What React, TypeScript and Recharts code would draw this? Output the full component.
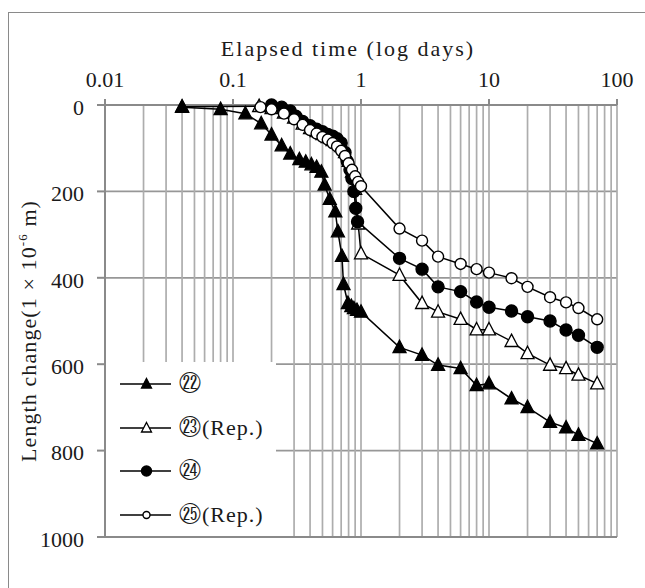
import React from "react";
import {
  ScatterChart,
  Scatter,
  XAxis,
  YAxis,
  CartesianGrid,
  ReferenceLine,
  Legend,
} from "recharts";

// elapsed time (days) and length change (x1e-6 m)
const s22Days = [0.04, 0.08, 0.125, 0.166, 0.2, 0.24, 0.28, 0.33, 0.37, 0.41, 0.45, 0.49, 0.52, 0.57, 0.63, 0.66, 0.71, 0.73, 0.79, 0.84, 0.88, 0.93, 1.0, 2, 3, 4, 6, 8, 10, 15, 20, 30, 40, 50, 70];
const s22Len = [5, 10, 20, 43, 69, 94, 113, 126, 132, 138, 144, 155, 185, 218, 247, 293, 350, 415, 459, 466, 471, 475, 479, 561, 579, 602, 610, 649, 645, 680, 700, 734, 747, 764, 784];

const s23Days = [0.04, 0.16, 0.2, 0.25, 0.3, 0.35, 0.4, 0.45, 0.5, 0.55, 0.6, 0.65, 0.7, 0.75, 0.8, 0.85, 0.9, 0.95, 1.0, 2, 3, 4, 6, 8, 10, 15, 20, 30, 40, 50, 70];
const s23Len = [4, 3, 8, 18, 30, 44, 54, 61, 68, 75, 82, 88, 96, 110, 130, 155, 195, 275, 344, 394, 459, 479, 496, 520, 520, 547, 575, 602, 610, 625, 645];

const s24Days = [0.2, 0.24, 0.28, 0.31, 0.35, 0.4, 0.45, 0.5, 0.55, 0.6, 0.65, 0.7, 0.75, 0.78, 0.82, 0.85, 0.88, 0.91, 0.94, 2, 3, 4, 6, 8, 10, 15, 20, 30, 40, 50, 70];
const s24Len = [0, 5, 14, 26, 38, 48, 56, 62, 68, 72, 78, 88, 110, 130, 150, 170, 200, 239, 270, 355, 380, 421, 432, 456, 468, 477, 490, 500, 521, 533, 561];

const s25Days = [0.164, 0.2, 0.25, 0.3, 0.35, 0.4, 0.45, 0.5, 0.55, 0.6, 0.65, 0.7, 0.75, 0.8, 0.85, 0.9, 0.95, 1.0, 2, 3, 4, 6, 8, 10, 15, 20, 30, 40, 50, 70];
const s25Len = [5, 10, 20, 33, 46, 58, 66, 74, 80, 88, 96, 106, 118, 135, 150, 165, 178, 188, 286, 314, 351, 368, 380, 388, 401, 421, 445, 457, 470, 496];

const xTicks = [0.01, 0.1, 1, 10, 100];
const yTicks = [0, 200, 400, 600, 800, 1000];
const decades = [0.01, 0.1, 1, 10];
const steps = [1, 2, 3, 4, 5, 6, 7, 8, 9];
const minorX = decades.flatMap((d) => steps.map((s) => +(d * s).toPrecision(3))).concat([100]);

const FONT = "Liberation Serif, Times New Roman, serif";

const toPoints = (days: number[], len: number[]) =>
  days.map((d, i) => ({ t: d, v: len[i] }));

const series = [
  { name: "㉒", data: toPoints(s22Days, s22Len), kind: "tri", filled: true },
  { name: "㉓(Rep.)", data: toPoints(s23Days, s23Len), kind: "tri", filled: false },
  { name: "㉔", data: toPoints(s24Days, s24Len), kind: "circ", filled: true },
  { name: "㉕(Rep.)", data: toPoints(s25Days, s25Len), kind: "circ", filled: false },
];
// ㉒ goes on top so its first marker hides the start of ㉓
const drawOrder = [1, 2, 3, 0];

function Marker({ cx, cy, kind, filled, s }: any) {
  if (cx == null || cy == null) return null;
  const fill = filled ? "#000" : "#fff";
  if (kind === "tri") {
    const d = `M${cx},${cy - s * 0.55}L${cx + s * 0.5},${cy + s * 0.4}L${cx - s * 0.5},${cy + s * 0.4}Z`;
    return <path d={d} fill={fill} stroke="#000" strokeWidth={1.3} />;
  }
  return <circle cx={cx} cy={cy} r={filled ? s / 2 : s / 2 - 0.5} fill={fill} stroke="#000" strokeWidth={1.4} />;
}

function LegendBox() {
  return (
    <div style={{ position: "relative", width: 170, height: 174, background: "#fff", fontFamily: FONT }}>
      {series.map((s, i) => (
        <div
          key={s.name}
          style={{ position: "absolute", left: 0, top: 22 + i * 43.5 - 12, height: 24, display: "flex", alignItems: "center" }}
        >
          <svg width={72} height={24} style={{ display: "block" }}>
            <line x1={14} x2={65} y1={12} y2={12} stroke="#000" strokeWidth={1.5} />
            <Marker cx={40.5} cy={12} kind={s.kind} filled={s.filled} s={s.kind === "tri" ? 10 : s.filled ? 10 : 8} />
          </svg>
          <span style={{ marginLeft: 1, fontSize: 22, letterSpacing: 1, color: "#1a1a1a", lineHeight: "24px", whiteSpace: "nowrap" }}>
            {s.name}
          </span>
        </div>
      ))}
    </div>
  );
}

export default function App() {
  return (
    <div style={{ position: "absolute", left: 0, top: 0, width: 645, height: 588, overflow: "hidden", background: "#fff" }}>
      <div
        style={{
          position: "absolute",
          left: 8,
          top: 12,
          right: 0,
          bottom: 0,
          borderTop: "1.5px solid #8a8a8a",
          borderLeft: "1.5px solid #8a8a8a",
        }}
      />
      <div style={{ position: "absolute", left: 0, top: 0 }}>
        <ScatterChart width={645} height={588} margin={{ top: 65, right: 28, bottom: 51, left: 45 }}>
          <CartesianGrid vertical={false} stroke="#979797" strokeWidth={1.8} />
          {minorX.map((v) => (
            <ReferenceLine key={v} x={v} stroke="#adadad" strokeWidth={1.7} />
          ))}
          <ReferenceLine y={1000} stroke="#8a8a8a" strokeWidth={2} />
          <XAxis
            type="number"
            dataKey="t"
            scale="log"
            domain={[0.01, 100]}
            ticks={xTicks}
            allowDataOverflow
            orientation="top"
            height={40}
            tickFormatter={(v: number) => String(v)}
            tick={{ fontSize: 22, fill: "#1a1a1a", fontFamily: FONT }}
            tickSize={6}
            tickMargin={12}
            stroke="#8a8a8a"
            strokeWidth={2}
            label={{
              content: () => (
                <text x={348} y={56} textAnchor="middle" fontSize={22} letterSpacing={2} fontFamily={FONT} fill="#1a1a1a">
                  Elapsed time (log days)
                </text>
              ),
            }}
          />
          <YAxis
            type="number"
            dataKey="v"
            domain={[0, 1000]}
            ticks={yTicks}
            reversed
            width={60}
            tick={{ fontSize: 22, fill: "#1a1a1a", fontFamily: FONT, dy: 2 }}
            tickSize={8}
            tickMargin={13}
            stroke="#8a8a8a"
            strokeWidth={2}
            label={{
              content: () => (
                <text
                  x={36}
                  y={331}
                  transform="rotate(-90 36 331)"
                  textAnchor="middle"
                  fontSize={22}
                  letterSpacing={1.1}
                  fontFamily={FONT}
                  fill="#1a1a1a"
                >
                  Length change(1 × 10
                  <tspan dy={-9} fontSize={13}>-6</tspan>
                  <tspan dy={9}> m)</tspan>
                </text>
              ),
            }}
          />
          {drawOrder.map((k) => {
            const s = series[k];
            return (
              <Scatter
                key={s.name}
                name={s.name}
                data={s.data}
                isAnimationActive={false}
                line={{ stroke: "#000", strokeWidth: 1.5 }}
                lineType="joint"
                shape={(p: any) => (
                  <Marker cx={p.cx} cy={p.cy} kind={s.kind} filled={s.filled} s={s.kind === "tri" ? 13 : 12} />
                )}
              />
            );
          })}
          <Legend
            layout="vertical"
            align="center"
            verticalAlign="middle"
            content={() => <LegendBox />}
            wrapperStyle={{ left: 106, top: 362, width: 170, height: 174, margin: 0 }}
          />
        </ScatterChart>
      </div>
    </div>
  );
}
